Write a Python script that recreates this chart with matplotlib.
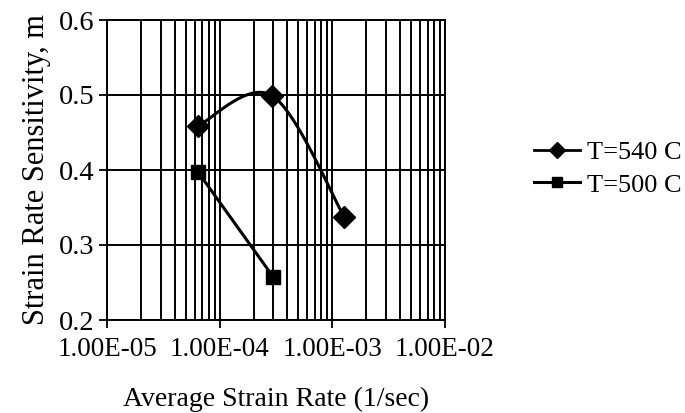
import numpy as np
import matplotlib
matplotlib.use("Agg")
import matplotlib.pyplot as plt
from matplotlib.ticker import LogLocator, FixedLocator, NullFormatter

# data
rate_540 = [6.45e-5, 2.93e-4, 1.28e-3]
m_540 = [0.459, 0.499, 0.337]
rate_500 = [6.45e-5, 3.0e-4]
m_500 = [0.397, 0.257]

x_ticks = [1e-5, 1e-4, 1e-3, 1e-2]
x_labels = ["1.00E-05", "1.00E-04", "1.00E-03", "1.00E-02"]
y_ticks = [0.2, 0.3, 0.4, 0.5, 0.6]


def smooth(xs, ys, n=40):
    # Catmull-Rom through points, done in (roughly) screen space like a spreadsheet
    u = np.log10(xs) * 112.5
    v = np.asarray(ys) * 750.0
    pts = np.column_stack([u, v])
    pts = np.vstack([pts[0], pts, pts[-1]])
    out = []
    for i in range(1, len(pts) - 2):
        p0, p1, p2, p3 = pts[i - 1], pts[i], pts[i + 1], pts[i + 2]
        t = np.linspace(0, 1, n)[:, None]
        seg = 0.5 * ((2 * p1) + (-p0 + p2) * t + (2 * p0 - 5 * p1 + 4 * p2 - p3) * t ** 2
                     + (-p0 + 3 * p1 - 3 * p2 + p3) * t ** 3)
        out.append(seg)
    out = np.vstack(out)
    return 10 ** (out[:, 0] / 112.5), out[:, 1] / 750.0


plt.rcParams["font.family"] = ["Liberation Serif", "DejaVu Serif"]
plt.rcParams["font.size"] = 19

fig = plt.figure(figsize=(6.85, 4.13), dpi=100)
ax = fig.add_axes([107 / 685, 1 - 320 / 413, (445 - 107) / 685, 300 / 413])

sx, sy = smooth(rate_540, m_540)
ax.plot(sx, sy, color="black", lw=2.2, zorder=3)
ax.plot(rate_540, m_540, ls="none", marker="D", ms=11, color="black", zorder=4)
ax.plot([], [], color="black", lw=2, marker="D", ms=11, label="T=540 C")
ax.plot(rate_500, m_500, color="black", lw=2.2, marker="s", ms=10, label="T=500 C", zorder=4)

ax.set_xscale("log")
ax.set_xlim(1e-5, 1e-2)
ax.set_ylim(0.2, 0.6)
ax.xaxis.set_major_locator(FixedLocator(x_ticks))
ax.set_xticklabels(x_labels, fontsize=19.5)
ax.xaxis.set_minor_locator(LogLocator(base=10, subs=np.arange(2, 10), numticks=20))
ax.xaxis.set_minor_formatter(NullFormatter())
ax.set_yticks(y_ticks)
ax.set_yticklabels([f"{v:.1f}" for v in y_ticks], fontsize=20.5)

ax.grid(True, which="both", axis="x", color="black", lw=1.4)
ax.grid(True, which="major", axis="y", color="black", lw=1.4)
ax.tick_params(which="minor", length=0)
ax.tick_params(which="major", length=6, width=1.3, direction="out", pad=3)
ax.tick_params(axis="x", which="major", pad=6)
for s in ax.spines.values():
    s.set_linewidth(1.4)

ax.set_xlabel("Average Strain Rate (1/sec)", labelpad=18, fontsize=20)
ax.set_ylabel("Strain Rate Sensitivity, m", labelpad=6, fontsize=22)

fig.legend(loc="center left", bbox_to_anchor=(0.745, 0.592), frameon=False,
           handlelength=1.75, handletextpad=0.25, labelspacing=0.35,
           markerscale=0.75, fontsize=19)

fig.savefig("out.png", dpi=100)
